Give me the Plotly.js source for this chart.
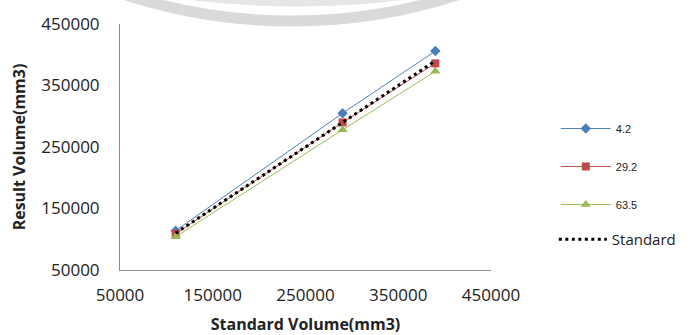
<!DOCTYPE html>
<html>
<head>
<meta charset="utf-8">
<script src="https://cdn.plot.ly/plotly-3.0.1.min.js"></script>
<style>html,body{margin:0;padding:0;background:#fff;}</style>
</head>
<body>
<div id="chart" style="width:693px;height:335px;"></div>
<script>
// Data
const standardVolume = [110000, 290000, 390000];
const series42 = [114000, 305000, 406000];
const series292 = [109000, 290000, 386000];
const series635 = [104000, 278000, 373000];
const standardLine = [110000, 290000, 390000];
const seriesNames = ['4.2', '29.2', '63.5', 'Standard'];
const tickValues = [50000, 150000, 250000, 350000, 450000];
const tickLabels = ['50000', '150000', '250000', '350000', '450000'];

const W = 693, H = 335;
const M = {l: 120, r: 195, t: 24, b: 65};
const PW = W - M.l - M.r, PH = H - M.t - M.b;
const px = v => (v - M.l) / PW;          // pixel -> paper x
const py = v => (H - M.b - v) / PH;      // pixel -> paper y

const traces = [
  {x: standardVolume, y: series42, name: seriesNames[0], legendgroup: 'a',
   mode: 'lines+markers', line: {color: '#4F81BD', width: 1},
   marker: {symbol: 'diamond', size: 8, color: '#4A7EBB'}},
  {x: standardVolume, y: series292, name: seriesNames[1], legendgroup: 'b',
   mode: 'lines+markers', line: {color: '#C0504D', width: 1},
   marker: {symbol: 'square', size: 8, color: '#BE4B48'}},
  {x: standardVolume, y: series635, name: seriesNames[2], legendgroup: 'c',
   mode: 'lines+markers', line: {color: '#9BBB59', width: 1},
   marker: {symbol: 'triangle-up', size: 9, color: '#98B954'}},
  {x: standardVolume, y: standardLine, name: seriesNames[3], legend: 'legend2',
   mode: 'lines', line: {color: '#000000', width: 3, dash: '3px,3.5px'}}
];

const axisCommon = {
  range: [50000, 450000], tickvals: tickValues, ticktext: tickLabels,
  showgrid: false, zeroline: false, showline: true, linecolor: '#8c8c8c', linewidth: 1,
  ticks: '', tickfont: {family: 'Open Sans', size: 17, color: '#222'}
};

const layout = {
  width: W, height: H, margin: M,
  paper_bgcolor: '#fff', plot_bgcolor: '#fff',
  showlegend: true,
  xaxis: Object.assign({}, axisCommon, {
    ticklabelstandoff: 10,
    title: {text: 'Standard Volume(mm3)', font: {family: 'Open Sans', size: 16, color: '#222', weight: 'bold'}, standoff: 16}
  }),
  yaxis: Object.assign({}, axisCommon, {
    ticklabelstandoff: 16,
    title: {text: 'Result Volume(mm3)', font: {family: 'Open Sans', size: 16, color: '#222', weight: 'bold'}, standoff: 11}
  }),
  legend: {
    x: px(564), xanchor: 'left', y: py(114), yanchor: 'top',
    font: {family: 'Liberation Sans', size: 11, color: '#222'},
    itemwidth: 50,
    tracegroupgap: 19, bgcolor: 'rgba(0,0,0,0)', borderwidth: 0
  },
  legend2: {
    x: px(562), xanchor: 'left', y: py(223), yanchor: 'top',
    font: {family: 'Open Sans', size: 15, color: '#222'},
    itemwidth: 48, bgcolor: 'rgba(0,0,0,0)', borderwidth: 0
  },
  shapes: [
    {type: 'circle', xref: 'paper', yref: 'paper', layer: 'below',
     x0: px(295 - 560), x1: px(295 + 560), y0: py(21), y1: py(21 - 1120),
     line: {color: '#dadada', width: 11}},
    {type: 'circle', xref: 'paper', yref: 'paper', layer: 'below',
     x0: px(300 - 900), x1: px(300 + 900), y0: py(3), y1: py(3 - 1800),
     line: {color: '#e6e6e6', width: 7}}
  ]
};

Plotly.newPlot('chart', traces, layout, {displayModeBar: false, staticPlot: true});
</script>
</body>
</html>
